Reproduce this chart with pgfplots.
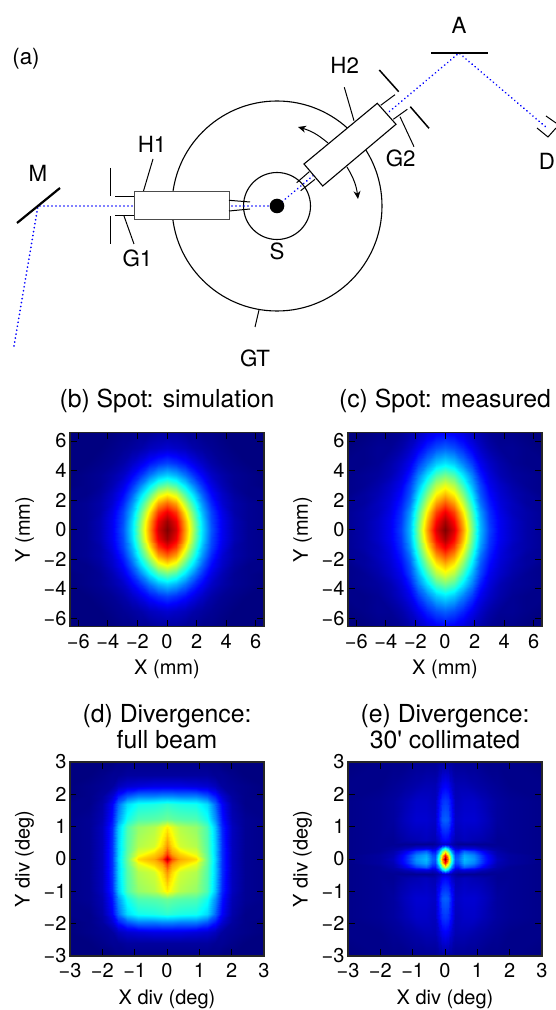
\documentclass[border=0pt]{standalone}
\usepackage{fontspec}
\setmainfont{TeX Gyre Heros}
\newfontfamily\plainf{TeX Gyre Heros}
\usepackage{pgfplots}
\usepackage{pgfplotstable}
\pgfplotsset{compat=1.18}
\usetikzlibrary{arrows.meta}
% quadrant tables: x y value (the maps are mirrored about x=0 and y=0)
\pgfplotstableread{
x y v
0 0 1
.6 0 .92
1.2 0 .72
1.8 0 .52
2.4 0 .35
3 0 .21
3.7 0 .11
4.5 0 .05
5.5 0 .02
6.6 0 .01
0 .6 .97
.6 .6 .89
1.2 .6 .70
1.8 .6 .50
2.4 .6 .34
3 .6 .20
3.7 .6 .11
4.5 .6 .05
5.5 .6 .02
6.6 .6 .01
0 1.2 .89
.6 1.2 .82
1.2 1.2 .64
1.8 1.2 .46
2.4 1.2 .31
3 1.2 .19
3.7 1.2 .10
4.5 1.2 .04
5.5 1.2 .02
6.6 1.2 .01
0 1.8 .77
.6 1.8 .71
1.2 1.8 .55
1.8 1.8 .40
2.4 1.8 .27
3 1.8 .16
3.7 1.8 .08
4.5 1.8 .04
5.5 1.8 .02
6.6 1.8 .01
0 2.4 .63
.6 2.4 .58
1.2 2.4 .45
1.8 2.4 .33
2.4 2.4 .22
3 2.4 .13
3.7 2.4 .07
4.5 2.4 .03
5.5 2.4 .01
6.6 2.4 .01
0 3 .48
.6 3 .44
1.2 3 .35
1.8 3 .25
2.4 3 .17
3 3 .10
3.7 3 .05
4.5 3 .02
5.5 3 .01
6.6 3 0
0 3.7 .33
.6 3.7 .30
1.2 3.7 .24
1.8 3.7 .17
2.4 3.7 .12
3 3.7 .07
3.7 3.7 .04
4.5 3.7 .02
5.5 3.7 .01
6.6 3.7 0
0 4.5 .19
.6 4.5 .17
1.2 4.5 .14
1.8 4.5 .10
2.4 4.5 .07
3 4.5 .04
3.7 4.5 .02
4.5 4.5 .01
5.5 4.5 0
6.6 4.5 0
0 5.5 .08
.6 5.5 .07
1.2 5.5 .06
1.8 5.5 .04
2.4 5.5 .03
3 5.5 .02
3.7 5.5 .01
4.5 5.5 0
5.5 5.5 0
6.6 5.5 0
0 6.6 .03
.6 6.6 .03
1.2 6.6 .02
1.8 6.6 .02
2.4 6.6 .01
3 6.6 .01
3.7 6.6 0
4.5 6.6 0
5.5 6.6 0
6.6 6.6 0
}\tableb
\pgfplotstableread{
x y v
0 0 1
.6 0 .91
1.2 0 .72
1.8 0 .50
2.4 0 .31
3 0 .19
3.7 0 .11
4.5 0 .07
5.5 0 .04
6.6 0 .02
0 .6 .96
.6 .6 .87
1.2 .6 .69
1.8 .6 .48
2.4 .6 .30
3 .6 .18
3.7 .6 .11
4.5 .6 .07
5.5 .6 .04
6.6 .6 .02
0 1.2 .89
.6 1.2 .81
1.2 1.2 .64
1.8 1.2 .45
2.4 1.2 .28
3 1.2 .17
3.7 1.2 .10
4.5 1.2 .06
5.5 1.2 .04
6.6 1.2 .02
0 1.8 .79
.6 1.8 .72
1.2 1.8 .57
1.8 1.8 .40
2.4 1.8 .24
3 1.8 .15
3.7 1.8 .09
4.5 1.8 .06
5.5 1.8 .03
6.6 1.8 .02
0 2.4 .69
.6 2.4 .63
1.2 2.4 .50
1.8 2.4 .35
2.4 2.4 .21
3 2.4 .13
3.7 2.4 .08
4.5 2.4 .05
5.5 2.4 .03
6.6 2.4 .01
0 3 .60
.6 3 .55
1.2 3 .43
1.8 3 .30
2.4 3 .19
3 3 .11
3.7 3 .07
4.5 3 .04
5.5 3 .02
6.6 3 .01
0 3.7 .49
.6 3.7 .45
1.2 3.7 .35
1.8 3.7 .25
2.4 3.7 .15
3 3.7 .09
3.7 3.7 .05
4.5 3.7 .03
5.5 3.7 .02
6.6 3.7 .01
0 4.5 .35
.6 4.5 .32
1.2 4.5 .25
1.8 4.5 .18
2.4 4.5 .11
3 4.5 .07
3.7 4.5 .04
4.5 4.5 .02
5.5 4.5 .01
6.6 4.5 .01
0 5.5 .22
.6 5.5 .20
1.2 5.5 .16
1.8 5.5 .11
2.4 5.5 .07
3 5.5 .04
3.7 5.5 .02
4.5 5.5 .02
5.5 5.5 .01
6.6 5.5 0
0 6.6 .12
.6 6.6 .11
1.2 6.6 .09
1.8 6.6 .06
2.4 6.6 .04
3 6.6 .02
3.7 6.6 .01
4.5 6.6 .01
5.5 6.6 0
6.6 6.6 0
}\tablec
\pgfplotstableread{
x y v
0 0 .95
.15 0 .80
.4 0 .71
.9 0 .66
1.25 0 .48
1.5 0 .34
1.7 0 .17
2 0 .06
2.4 0 .02
3 0 .01
0 .15 .82
.15 .15 .72
.4 .15 .67
.9 .15 .60
1.25 .15 .47
1.5 .15 .33
1.7 .15 .17
2 .15 .06
2.4 .15 .02
3 .15 .01
0 .4 .73
.15 .4 .66
.4 .4 .58
.9 .4 .55
1.25 .4 .46
1.5 .4 .33
1.7 .4 .17
2 .4 .06
2.4 .4 .02
3 .4 .01
0 1 .64
.15 1 .60
.4 1 .55
.9 1 .52
1.25 1 .45
1.5 1 .32
1.7 1 .16
2 1 .06
2.4 1 .02
3 1 .01
0 1.25 .48
.15 1.25 .47
.4 1.25 .46
.9 1.25 .45
1.25 1.25 .39
1.5 1.25 .27
1.7 1.25 .14
2 1.25 .05
2.4 1.25 .02
3 1.25 .01
0 1.7 .42
.15 1.7 .41
.4 1.7 .40
.9 1.7 .39
1.25 1.7 .34
1.5 1.7 .23
1.7 1.7 .12
2 1.7 .04
2.4 1.7 .01
3 1.7 .01
0 1.95 .26
.15 1.95 .26
.4 1.95 .25
.9 1.95 .25
1.25 1.95 .21
1.5 1.95 .15
1.7 1.95 .08
2 1.95 .03
2.4 1.95 .01
3 1.95 0
0 2.25 .10
.15 2.25 .10
.4 2.25 .10
.9 2.25 .09
1.25 2.25 .08
1.5 2.25 .06
1.7 2.25 .03
2 2.25 .02
2.4 2.25 .01
3 2.25 0
0 2.6 .03
.15 2.6 .03
.4 2.6 .03
.9 2.6 .03
1.25 2.6 .03
1.5 2.6 .02
1.7 2.6 .02
2 2.6 .01
2.4 2.6 0
3 2.6 0
0 3 .01
.15 3 .01
.4 3 .01
.9 3 .01
1.25 3 .01
1.5 3 .01
1.7 3 0
2 3 0
2.4 3 0
3 3 0
}\tabled
\pgfplotstableread{
x y v
0 0 1
.1 0 .75
.2 0 .45
.3 0 .21
.4 0 .22
.6 0 .31
.9 0 .27
1.25 0 .15
1.6 0 .06
2 0 .03
3 0 .01
0 .12 .85
.1 .12 .65
.2 .12 .40
.3 .12 .19
.4 .12 .20
.6 .12 .29
.9 .12 .25
1.25 .12 .14
1.6 .12 .05
2 .12 .03
3 .12 .01
0 .25 .60
.1 .25 .47
.2 .25 .28
.3 .25 .14
.4 .25 .14
.6 .25 .22
.9 .25 .18
1.25 .25 .10
1.6 .25 .04
2 .25 .02
3 .25 .01
0 .35 .38
.1 .35 .30
.2 .35 .17
.3 .35 .08
.4 .35 .07
.6 .35 .09
.9 .35 .08
1.25 .35 .05
1.6 .35 .03
2 .35 .02
3 .35 .01
0 .47 .08
.1 .47 .07
.2 .47 .05
.3 .47 .03
.4 .47 .02
.6 .47 .02
.9 .47 .02
1.25 .47 .02
1.6 .47 .02
2 .47 .02
3 .47 .01
0 .6 .13
.1 .6 .12
.2 .6 .08
.3 .6 .05
.4 .6 .05
.6 .6 .06
.9 .6 .05
1.25 .6 .04
1.6 .6 .02
2 .6 .02
3 .6 .01
0 1.2 .22
.1 1.2 .21
.2 1.2 .15
.3 1.2 .07
.4 1.2 .07
.6 1.2 .08
.9 1.2 .08
1.25 1.2 .06
1.6 1.2 .03
2 1.2 .02
3 1.2 .01
0 1.8 .18
.1 1.8 .17
.2 1.8 .13
.3 1.8 .06
.4 1.8 .06
.6 1.8 .07
.9 1.8 .07
1.25 1.8 .05
1.6 1.8 .03
2 1.8 .02
3 1.8 .01
0 2.3 .12
.1 2.3 .11
.2 2.3 .08
.3 2.3 .05
.4 2.3 .05
.6 2.3 .05
.9 2.3 .04
1.25 2.3 .03
1.6 2.3 .02
2 2.3 .01
3 2.3 .01
0 3 .03
.1 3 .03
.2 3 .03
.3 3 .02
.4 3 .02
.6 3 .02
.9 3 .02
1.25 3 .01
1.6 3 .01
2 3 .01
3 3 0
}\tablee
\newcommand\fourquads[2]{%
\addplot[surf,shader=interp,mesh/cols=#2,point meta=explicit] table[x index=0,y index=1,meta index=2]{#1};
\addplot[surf,shader=interp,mesh/cols=#2,point meta=explicit] table[x expr=-\thisrowno{0},y index=1,meta index=2]{#1};
\addplot[surf,shader=interp,mesh/cols=#2,point meta=explicit] table[x index=0,y expr=-\thisrowno{1},meta index=2]{#1};
\addplot[surf,shader=interp,mesh/cols=#2,point meta=explicit] table[x expr=-\thisrowno{0},y expr=-\thisrowno{1},meta index=2]{#1};
}
\newcommand\lab{\fontsize{20}{22}\selectfont}
\newcommand\ttl{\fontsize{24.8}{26.7}\selectfont}
\newcommand\sch{\fontsize{22.3}{24}\selectfont}
\pgfplotsset{
 heat/.style={scale only axis,width=194pt,height=194pt,colormap/jet,
  point meta min=0,point meta max=1,axis on top,
  tick align=inside,major tick length=6.5pt,
  every tick/.style={black,line width=.9pt},
  axis line style={black!85,line width=1.3pt},
  tick label style={font=\lab},label style={font=\lab},
  xticklabel shift=4pt,
  xlabel style={at={(axis description cs:.5,-.222)},anchor=center},
  ylabel style={at={(axis description cs:-.234,.5)},anchor=center},
  title style={font=\ttl,align=center,anchor=center},
 },
 spot/.style={heat,xmin=-6.56,xmax=6.56,ymin=-6.56,ymax=6.56,
  xtick={-6,-4,-2,0,2,4,6},ytick={-6,-4,-2,0,2,4,6},
  xticklabels={−6,−4,−2,0,2,4,6},yticklabels={−6,−4,−2,0,2,4,6},
  xlabel={X (mm)},ylabel={Y (mm)}},
 dive/.style={heat,xmin=-3,xmax=3,ymin=-3,ymax=3,
  xtick={-3,-2,-1,0,1,2,3},ytick={-3,-2,-1,0,1,2,3},
  xticklabels={−3,−2,−1,0,1,2,3},yticklabels={−3,−2,−1,0,1,2,3},
  xlabel={X div (deg)},ylabel={Y div (deg)}},
}
\begin{document}
\begin{tikzpicture}
\useasboundingbox (0,0) rectangle (556pt,1010pt);
\begin{axis}[at={(0pt,0pt)},anchor=south west,scale only axis,width=556pt,height=1010pt,
 xmin=0,xmax=556,ymin=0,ymax=1010,y dir=reverse,hide axis,clip=false]
\draw[line width=1.1pt] (axis cs:277,206) circle[radius=105pt];
\draw[line width=1.1pt] (axis cs:277,206) circle[radius=33.5pt];
\addplot[blue,line width=1.8pt,line cap=round,dash pattern=on 0.1pt off 3.9pt] coordinates {(14,346) (38,206) (277,206) (459,53) (547,128)};
% H1
\draw[black!70,line width=1pt,fill=white] (axis cs:134,192) rectangle (axis cs:229,220);
\draw[line width=1pt] (axis cs:115,196.5)--(axis cs:134,196.5) (axis cs:115,215.5)--(axis cs:134,215.5);
\draw[line width=1pt] (axis cs:229,200.3)--(axis cs:250,202) (axis cs:229,211)--(axis cs:250,209);
\draw[line width=.9pt] (axis cs:110.5,168)--(axis cs:110.5,196) (axis cs:110.5,216)--(axis cs:110.5,244);
\draw[line width=1pt] (axis cs:124,216)--(axis cs:134,244);
\draw[line width=1pt] (axis cs:153,159)--(axis cs:143.5,191);
% H2
\draw[line width=1.1pt,fill=white] (axis cs:304,164)--(axis cs:377.3,103.3)--(axis cs:396,124.3)--(axis cs:322.7,186)--cycle;
\draw[line width=1pt] (axis cs:380.7,105.3)--(axis cs:395,94.7) (axis cs:393.3,119.3)--(axis cs:407.3,109.3);
\draw[line width=1pt] (axis cs:296.7,182.7)--(axis cs:309.3,171.7) (axis cs:300.7,190.7)--(axis cs:315,179.3);
\draw[line width=1.5pt] (axis cs:379.3,70)--(axis cs:398.7,91.7) (axis cs:410.3,106.7)--(axis cs:429,128.3);
\draw[line width=1pt] (axis cs:400,116.7)--(axis cs:414,146.7);
\draw[line width=1pt] (axis cs:344.3,87.3)--(axis cs:354,120.7);
\draw[line width=1pt] (axis cs:259,310)--(axis cs:255,327);
% arrows
\draw[line width=1pt,-{Stealth[length=8pt,width=7pt]}] (axis cs:328,143) to[bend right=12] (axis cs:298,127);
\draw[line width=1pt,-{Stealth[length=8pt,width=7pt]}] (axis cs:347,167) to[bend left=12] (axis cs:358,199);
% mirror, analyser, detector, sample
\draw[line width=2.2pt] (axis cs:17,223)--(axis cs:60,188);
\draw[line width=2.2pt] (axis cs:431,53)--(axis cs:488,53);
\draw[line width=1pt] (axis cs:546,116)--(axis cs:556,123) (axis cs:537,128)--(axis cs:548,137)--(axis cs:556,128);
\fill (axis cs:277,206) circle[radius=7.3pt];
\node[font=\sch] at (axis cs:26,59) {(a)};
\node[font=\sch] at (axis cs:38,173) {M};
\node[font=\sch] at (axis cs:152,144) {H1};
\node[font=\sch] at (axis cs:137.5,258) {G1};
\node[font=\sch] at (axis cs:277,251) {S};
\node[font=\sch] at (axis cs:255,358) {GT};
\node[font=\sch] at (axis cs:344.7,65) {H2};
\node[font=\sch] at (axis cs:400.7,158) {G2};
\node[font=\sch] at (axis cs:459,25) {A};
\node[font=\sch] at (axis cs:547,161) {D};
\end{axis}
\begin{axis}[spot,at={(70pt,383.3pt)},anchor=south west,title={(b) Spot: simulation},title style={at={(axis description cs:.5,1.133)}}]
\fourquads{\tableb}{10}
\end{axis}
\begin{axis}[spot,at={(348pt,383.3pt)},anchor=south west,title={(c) Spot: measured},title style={at={(axis description cs:.5,1.133)}}]
\fourquads{\tablec}{10}
\end{axis}
\begin{axis}[dive,at={(70pt,54pt)},anchor=south west,title={(d) Divergence:\\full beam},title style={at={(axis description cs:.5,1.152)}}]
\fourquads{\tabled}{10}
\end{axis}
\begin{axis}[dive,at={(348pt,54pt)},anchor=south west,title={(e) Divergence:\\30{\plainf\fontsize{24.8}{26.7}\selectfont '} collimated},title style={at={(axis description cs:.5,1.152)}}]
\fourquads{\tablee}{11}
\end{axis}
\end{tikzpicture}
\end{document}
